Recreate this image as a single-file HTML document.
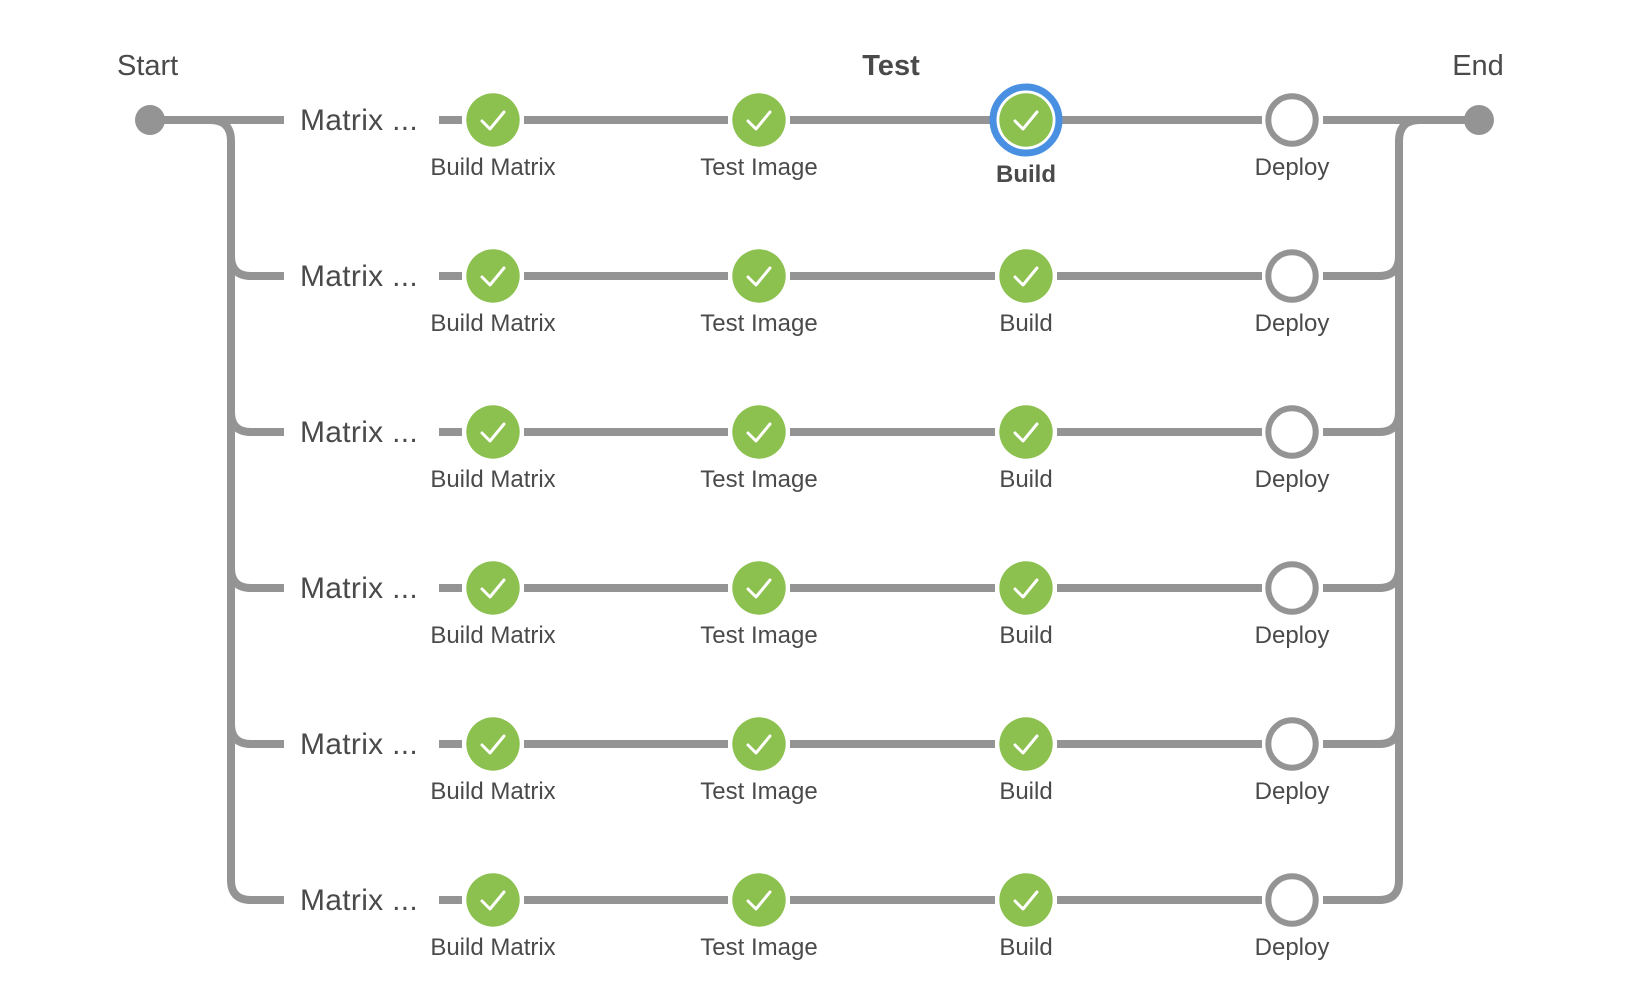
<!DOCTYPE html>
<html><head><meta charset="utf-8"><style>
html,body{margin:0;padding:0;background:#fff;}
svg{display:block;}
text{font-family:"Liberation Sans",sans-serif;fill:#4a4a4a;}
</style></head><body>
<svg width="1648" height="1004" viewBox="0 0 1648 1004" xmlns="http://www.w3.org/2000/svg">
<g stroke="#949494" stroke-width="8" fill="none">
  <line x1="150" y1="120" x2="284" y2="120"/>
  <path d="M210 120 Q231 120 231 141 L231 880 Q231 900 251 900 L284 900"/>
  <path d="M231 256 Q231 276 251 276 L284 276"/>
  <path d="M231 412 Q231 432 251 432 L284 432"/>
  <path d="M231 568 Q231 588 251 588 L284 588"/>
  <path d="M231 724 Q231 744 251 744 L284 744"/>
  <line x1="1323" y1="120" x2="1479" y2="120"/>
  <path d="M1420 120 Q1399 120 1399 141 L1399 880 Q1399 900 1379 900 L1323 900"/>
  <path d="M1399 256 Q1399 276 1379 276 L1323 276"/>
  <path d="M1399 412 Q1399 432 1379 432 L1323 432"/>
  <path d="M1399 568 Q1399 588 1379 588 L1323 588"/>
  <path d="M1399 724 Q1399 744 1379 744 L1323 744"/>
</g>
<circle cx="150" cy="120" r="15" fill="#949494"/>
<circle cx="1479" cy="120" r="15" fill="#949494"/>
<text x="117" y="75" font-size="29">Start</text>
<text x="891" y="75" font-size="29" font-weight="bold" text-anchor="middle">Test</text>
<text x="1478" y="75" font-size="29" text-anchor="middle">End</text>

<defs>
<g id="row">
  <g stroke="#949494" stroke-width="8">
    <line x1="439" y1="0" x2="462" y2="0"/>
    <line x1="524" y1="0" x2="728" y2="0"/>
    <line x1="790" y1="0" x2="995" y2="0"/>
    <line x1="1057" y1="0" x2="1262" y2="0"/>
  </g>
  <circle cx="493" cy="0" r="26.7" fill="#8cc04f"/>
  <circle cx="759" cy="0" r="26.7" fill="#8cc04f"/>
  <circle cx="1026" cy="0" r="26.7" fill="#8cc04f"/>
  <g stroke="#fff" stroke-width="3" fill="none" stroke-linecap="round" stroke-linejoin="round">
    <path d="M482 1 L490 9 L504 -8"/>
    <path d="M748 1 L756 9 L770 -8"/>
    <path d="M1015 1 L1023 9 L1037 -8"/>
  </g>
  <circle cx="1292" cy="0" r="23.7" fill="#fff" stroke="#949494" stroke-width="6"/>
  <text x="300" y="10" font-size="30" letter-spacing="0.3">Matrix ...</text>
  <text x="493" y="55" font-size="24" text-anchor="middle">Build Matrix</text>
  <text x="759" y="55" font-size="24" text-anchor="middle">Test Image</text>
  <text x="1292" y="55" font-size="24" text-anchor="middle">Deploy</text>
</g>
</defs>

<use href="#row" transform="translate(0,120)"/>
<circle cx="1026" cy="120" r="33" fill="#fff" stroke="#4a90e2" stroke-width="7"/>
<circle cx="1026" cy="120" r="26.7" fill="#8cc04f"/>
<path d="M1015 121 L1023 129 L1037 112" stroke="#fff" stroke-width="3" fill="none" stroke-linecap="round" stroke-linejoin="round"/>
<text x="1026" y="182" font-size="24" font-weight="bold" text-anchor="middle">Build</text>

<use href="#row" transform="translate(0,276)"/>
<text x="1026" y="331" font-size="24" text-anchor="middle">Build</text>
<use href="#row" transform="translate(0,432)"/>
<text x="1026" y="487" font-size="24" text-anchor="middle">Build</text>
<use href="#row" transform="translate(0,588)"/>
<text x="1026" y="643" font-size="24" text-anchor="middle">Build</text>
<use href="#row" transform="translate(0,744)"/>
<text x="1026" y="799" font-size="24" text-anchor="middle">Build</text>
<use href="#row" transform="translate(0,900)"/>
<text x="1026" y="955" font-size="24" text-anchor="middle">Build</text>
</svg>
</body></html>
